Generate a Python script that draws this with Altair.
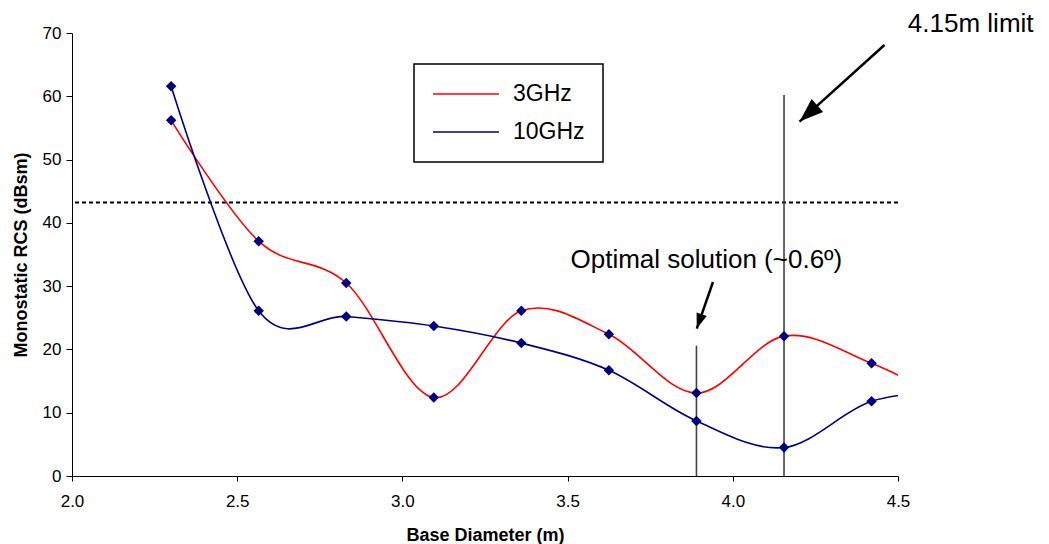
import altair as alt
import pandas as pd

# ---------------- data ----------------
diam = [2.30, 2.565, 2.83, 3.095, 3.36, 3.625, 3.89, 4.155, 4.42, 4.685]
rcs_3ghz = [56.2, 37.1, 30.5, 12.4, 26.1, 22.4, 13.1, 22.1, 17.8, 11.0]
rcs_10ghz = [61.6, 26.1, 25.2, 23.7, 21.0, 16.7, 8.7, 4.5, 11.8, 13.5]
series = ["3GHz", "10GHz"]
series_colors = ["#FF0000", "#000080"]

x_ticks = [2.0, 2.5, 3.0, 3.5, 4.0, 4.5]
y_ticks = [0, 10, 20, 30, 40, 50, 60, 70]

threshold = [43.2]
vline_x = [3.89, 4.155]
vline_top = [20.6, 60.2]

annot_text = ["Optimal solution (~0.6º)", "4.15m limit"]
annot_x = [3.92, 4.72]
annot_y = [32.8, 70.2]

arrow_x0 = [3.940, 4.459]
arrow_y0 = [30.66, 68.1]
arrow_x1 = [3.891, 4.202]
arrow_y1 = [23.3, 56.0]
arrow_angle = [199, 228]
arrow_size = [900, 2304]

# ---------------- tables ----------------
rows = []
for s, vals in zip(series, [rcs_3ghz, rcs_10ghz]):
    for d, v in zip(diam, vals):
        rows.append({"diam": d, "rcs": v, "series": s})
df = pd.DataFrame(rows)

thr_df = pd.DataFrame({"y": threshold})
vl_df = pd.DataFrame({"x": vline_x, "y0": [0] * len(vline_x), "y1": vline_top})
txt_df = pd.DataFrame({"x": annot_x, "y": annot_y, "t": annot_text})
arr_df = pd.DataFrame({"x0": arrow_x0, "y0": arrow_y0, "x1": arrow_x1,
                       "y1": arrow_y1, "ang": arrow_angle, "sz": arrow_size})

FONT = "Liberation Sans"

xscale = alt.Scale(domain=[2.0, 4.5], nice=False, zero=False)
yscale = alt.Scale(domain=[0, 70], nice=False)

xax = alt.Axis(values=x_ticks, format=".1f", title="Base Diameter (m)", grid=False,
               labelFontSize=17, labelPadding=12, tickSize=5, domainColor="black",
               tickColor="black", labelColor="black", titleFontSize=18,
               titleFontWeight="bold", titleBaseline="alphabetic", titleY=64,
               titleColor="black", labelFlush=False)
yax = alt.Axis(values=y_ticks, title="Monostatic RCS (dBsm)", grid=False,
               labelFontSize=17, labelPadding=5, tickSize=6, domainColor="black",
               tickColor="black", labelColor="black", titleFontSize=18,
               titleFontWeight="bold", titleBaseline="alphabetic", titleX=-46,
               titleColor="black")

lines = alt.Chart(df).mark_line(interpolate="cardinal", tension=0, strokeWidth=1.6,
                                clip=True).encode(
    x=alt.X("diam:Q", scale=xscale, axis=xax),
    y=alt.Y("rcs:Q", scale=yscale, axis=yax),
    color=alt.Color("series:N", scale=alt.Scale(domain=series, range=series_colors),
                    sort=series,
                    legend=alt.Legend(orient="none", legendX=342, legendY=31, title=None,
                                      strokeColor="black", padding=18,
                                      symbolType="M-1,0L5,0", symbolSize=484,
                                      symbolStrokeWidth=1.5, labelFontSize=23,
                                      labelOffset=57, rowPadding=14, labelFont=FONT,
                                      labelColor="black")),
    detail="series:N",
)

points = alt.Chart(df).mark_point(shape="diamond", filled=True, size=110, color="#000080",
                                  opacity=1, clip=True).encode(
    x=alt.X("diam:Q", scale=xscale),
    y=alt.Y("rcs:Q", scale=yscale),
)

thr = alt.Chart(thr_df).mark_rule(color="black", strokeWidth=2, strokeDash=[4, 3]).encode(
    y=alt.Y("y:Q", scale=yscale)
)

vl = alt.Chart(vl_df).mark_rule(color="#444444", strokeWidth=1.6).encode(
    x=alt.X("x:Q", scale=xscale), y=alt.Y("y0:Q", scale=yscale), y2="y1:Q"
)

arr_lines = alt.Chart(arr_df).mark_rule(color="black", strokeWidth=2.5).encode(
    x=alt.X("x0:Q", scale=xscale), y=alt.Y("y0:Q", scale=yscale), x2="x1:Q", y2="y1:Q"
)

arr_heads = alt.Chart(arr_df).mark_point(shape="M0,0L0.36,1L-0.36,1Z", filled=True,
                                         color="black", opacity=1).encode(
    x=alt.X("x1:Q", scale=xscale), y=alt.Y("y1:Q", scale=yscale),
    angle=alt.Angle("ang:Q", scale=None), size=alt.Size("sz:Q", scale=None)
)

texts = alt.Chart(txt_df).mark_text(font=FONT, fontSize=26, align="center",
                                    baseline="alphabetic", color="black").encode(
    x=alt.X("x:Q", scale=xscale), y=alt.Y("y:Q", scale=yscale), text="t:N"
)

chart = alt.layer(thr, vl, lines, points, arr_lines, arr_heads, texts).properties(
    width=826, height=443,
    autosize=alt.AutoSizeParams(type="none"),
    padding={"left": 72, "top": 33, "right": 151, "bottom": 68},
    background="white",
).configure(font=FONT).configure_view(stroke=None).configure_legend(strokeWidth=1.5)

chart.save("out.html", embed_options={"renderer": "svg", "actions": False})
